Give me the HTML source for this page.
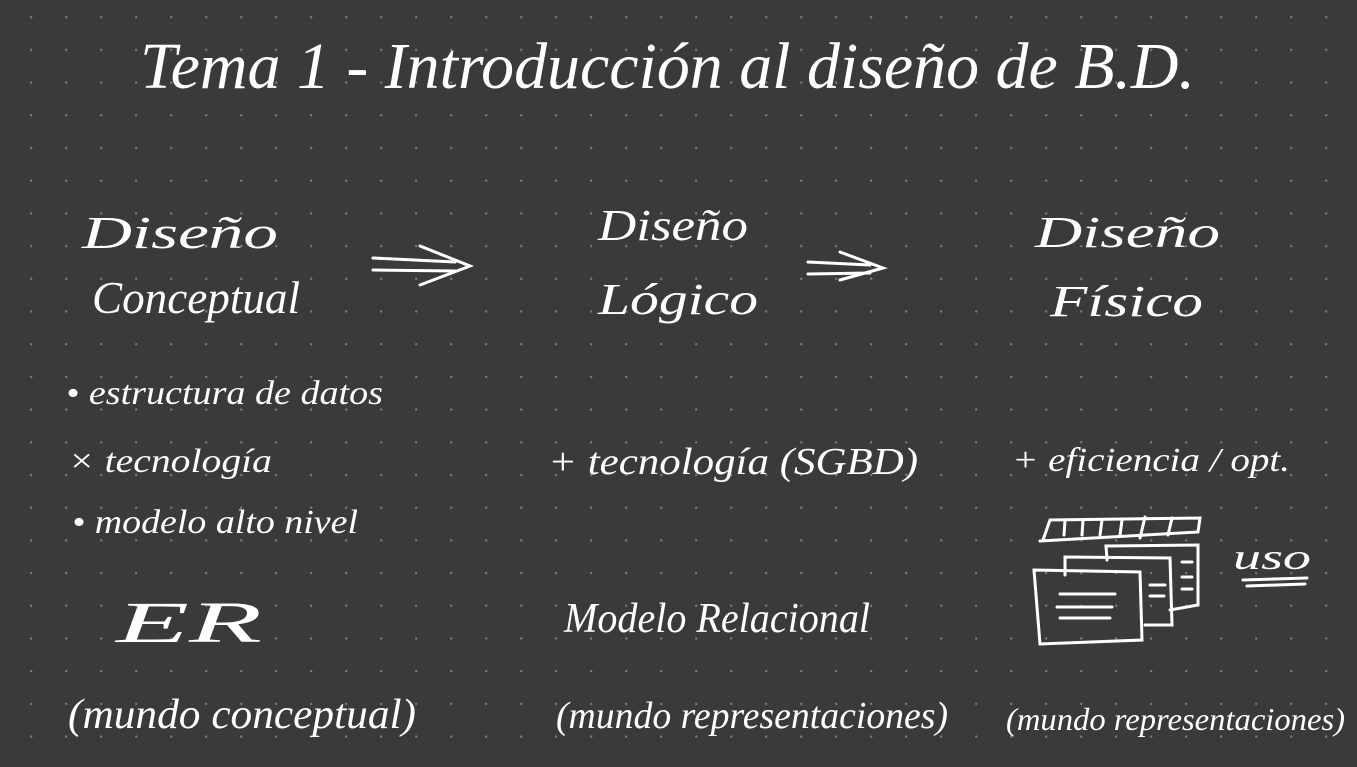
<!DOCTYPE html>
<html><head><meta charset="utf-8"><style>
html,body{margin:0;padding:0;background:#3a393c;}
svg{display:block}
text{fill:#fff;font-family:"Liberation Serif",serif;font-style:italic;}
</style></head><body>
<svg width="1357" height="767" viewBox="0 0 1357 767" xmlns="http://www.w3.org/2000/svg">
<defs><pattern id="d" x="30" y="16" width="35" height="32.7" patternUnits="userSpaceOnUse"><circle cx="1.2" cy="1.2" r="1.2" fill="#7d7c80"/></pattern></defs>
<rect width="1357" height="767" fill="#3a393c"/>
<rect width="1357" height="767" fill="url(#d)"/>
<text x="140" y="88" font-size="66" textLength="1055" lengthAdjust="spacingAndGlyphs">Tema 1 - Introducción al diseño de B.D.</text>
<text x="82" y="248" font-size="46" textLength="196" lengthAdjust="spacingAndGlyphs">Diseño</text>
<text x="92" y="313" font-size="46" textLength="208" lengthAdjust="spacingAndGlyphs">Conceptual</text>
<text x="598" y="240" font-size="44" textLength="150" lengthAdjust="spacingAndGlyphs">Diseño</text>
<text x="598" y="314" font-size="44" textLength="160" lengthAdjust="spacingAndGlyphs">Lógico</text>
<text x="1035" y="247" font-size="44" textLength="185" lengthAdjust="spacingAndGlyphs">Diseño</text>
<text x="1050" y="316" font-size="44" textLength="153" lengthAdjust="spacingAndGlyphs">Físico</text>
<g stroke="#fff" stroke-width="3" fill="none" stroke-linecap="round">
<path d="M373 258 L455 262 M373 270 L455 271 M420 246 L470 266 L420 285"/>
<path d="M808 262 L870 265 M808 274 L870 273 M840 252 L883 268 L840 280"/>
<path d="M1043 540 L1050 520 L1200 518 L1198 532 L1040 541"/>
<path d="M1065 520 L1064 535 M1083 520 L1082 535 M1102 520 L1100 535 M1122 520 L1120 535 M1145 517 L1140 538 M1172 518 L1168 535"/>
<path d="M1107 560 L1106 546 L1198 545 L1198 605 L1170 610"/>
<path d="M1065 575 L1065 557 L1170 558 L1172 625 L1145 625"/>
<path d="M1034 570 L1140 572 L1142 640 L1040 644 Z"/>
<path d="M1060 594 L1115 594 M1057 607 L1112 607 M1060 618 L1110 618"/>
<path d="M1150 585 L1165 585 M1150 596 L1164 596 M1182 562 L1192 562 M1182 577 L1192 577 M1182 589 L1192 589"/>
<path d="M1243 580 L1307 578 M1247 586 L1305 584"/>
</g>
<text x="1233" y="569" font-size="36" textLength="78" lengthAdjust="spacingAndGlyphs">uso</text>
<text x="66" y="404" font-size="34" textLength="317" lengthAdjust="spacingAndGlyphs">• estructura de datos</text>
<text x="68" y="472" font-size="34" textLength="204" lengthAdjust="spacingAndGlyphs">× tecnología</text>
<text x="72" y="533" font-size="34" textLength="286" lengthAdjust="spacingAndGlyphs">• modelo alto nivel</text>
<text x="116" y="642" font-size="58" textLength="146" lengthAdjust="spacingAndGlyphs">ER</text>
<text x="68" y="728" font-size="42" textLength="348" lengthAdjust="spacingAndGlyphs">(mundo conceptual)</text>
<text x="548" y="474" font-size="38" textLength="370" lengthAdjust="spacingAndGlyphs">+ tecnología (SGBD)</text>
<text x="564" y="632" font-size="42" textLength="306" lengthAdjust="spacingAndGlyphs">Modelo Relacional</text>
<text x="556" y="728" font-size="38" textLength="392" lengthAdjust="spacingAndGlyphs">(mundo representaciones)</text>
<text x="1012" y="471" font-size="34" textLength="278" lengthAdjust="spacingAndGlyphs">+ eficiencia / opt.</text>
<text x="1006" y="730" font-size="32" textLength="339" lengthAdjust="spacingAndGlyphs">(mundo representaciones)</text>
</svg>
</body></html>
